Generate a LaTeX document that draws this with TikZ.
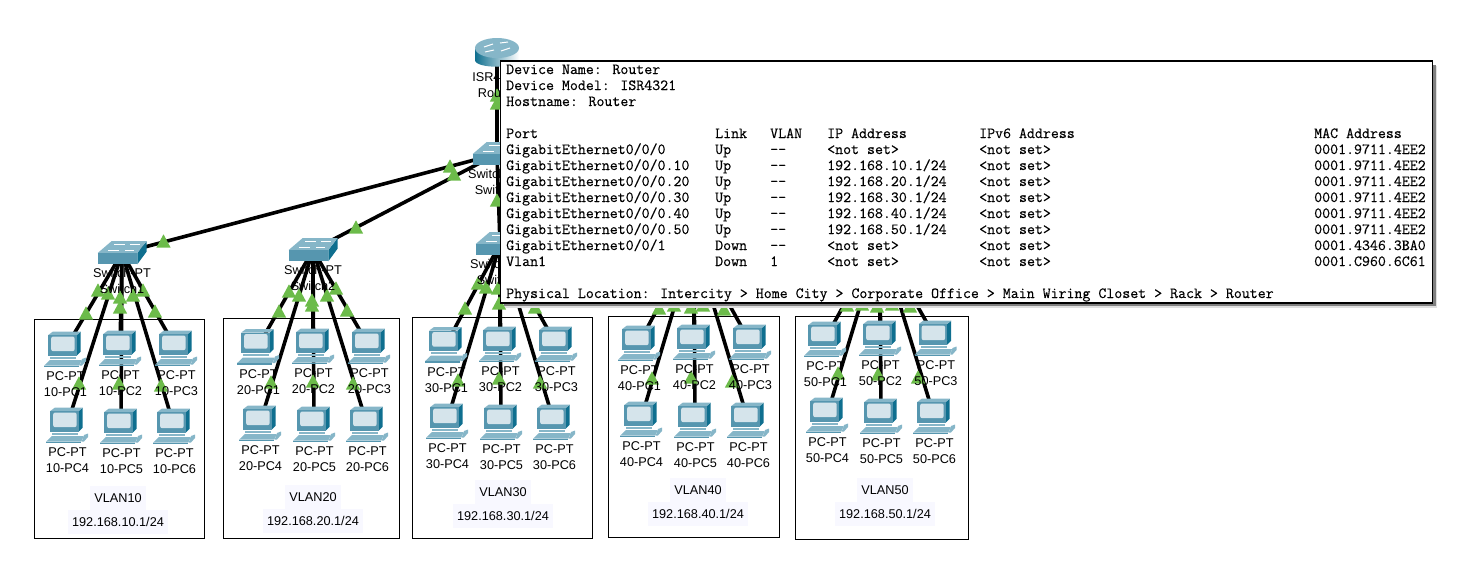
\documentclass[tikz,border=0pt]{standalone}
\usepackage{fontspec}
\setmainfont{Liberation Sans}
\newfontfamily\tipfont[FakeBold=0.35]{Latin Modern Mono}
\usepackage{tikz}
\usepackage{xcolor}
\definecolor{lampgreen}{HTML}{6CBB4A}
\definecolor{iconfront}{HTML}{5696AF}
\definecolor{icondark}{HTML}{0F6F8F}
\definecolor{icontop}{HTML}{86B6C8}
\definecolor{iconscreen}{HTML}{D5E4EB}
\definecolor{labelback}{HTML}{F8F8FF}
\tikzset{
  link/.style={line width=3.6pt,black},
  lamp/.style={fill=lampgreen},
  pclabel/.style={align=center,font=\fontsize{12.7}{16}\selectfont,inner sep=0pt},
  vlanlabel/.style={fill=labelback,font=\fontsize{12.7}{16}\selectfont,inner xsep=4.5pt,inner ysep=0pt,minimum height=23.5pt},
  tipline/.style={anchor=base west,inner sep=0pt,font=\fontsize{15.47}{16}\tipfont},
  pcicon/.pic={
    \fill[fill=icondark] (11.7,-14) -- (15.7,-17.3) -- (15.7,2.7) -- (11.7,6.7) -- cycle;
    \fill[fill=icontop] (-16.7,-14) -- (-12.3,-17.3) -- (15.7,-17.3) -- (11.7,-14) -- cycle;
    \fill[fill=iconfront] (-16.7,-14) rectangle (11.7,6.7);
    \fill[fill=iconscreen,rounded corners=2pt] (-13.8,-12.5) rectangle (9.6,2.2);
    \fill[fill=icontop] (-15,7.5) rectangle (11,9.5);
    \fill[fill=icontop] (-15,11) -- (16.7,11) -- (14.3,16.7) -- (-21,16.7) -- cycle;
    \fill[fill=iconfront] (-21,16.7) rectangle (14.3,18);
    \fill[fill=icontop] (17,10) -- (21,8.5) -- (21,12) -- (17,16.5) -- (14.8,16.5) -- cycle;
  },
  switchicon/.pic={
    \fill[fill=icondark] (15.3,0) -- (24.7,-12) -- (24.7,-1.5) -- (15.3,11.3) -- cycle;
    \fill[fill=icontop] (-24.3,0) -- (-10.3,-12) -- (24.7,-12) -- (15.3,0) -- cycle;
    \fill[fill=iconfront] (-24.3,0) rectangle (15.3,11.3);
    \draw[white,line width=0.7pt] (-8,-9) -- (3,-9) (8,-9) -- (18,-9) (-14,-3) -- (-3,-3) (3,-3) -- (12,-3);
  },
  routericon/.pic={
    \shade[left color=icondark,middle color=icontop,right color=white] (-22,-4) -- (-22,8) .. controls (-22,17) and (22,17) .. (22,8) -- (22,-4) -- cycle;
    \fill[fill=icontop] (0,-4) ellipse (22 and 10);
    \draw[white,line width=1pt] (-13,-5) -- (-4,-8) (4,-1) -- (13,-4) (-12,0) -- (-3,-2) (3,-9) -- (11,-10);
  }
}
\begin{document}
\begin{tikzpicture}[x=1pt,y=-1pt]
  \useasboundingbox (0,0) rectangle (1478,582);
  % device positions
  \foreach \n/\x/\y in {router/497/52,s0/497/154,s1/122/253,s2/313/250,s3/500/244,s4/694/241,s5/880/240,
    p11/65/349,p12/120/348,p13/176/348,p14/67/425,p15/121/426,p16/174/426,
    p21/258/346.5,p22/313/346,p23/369/346,p24/260/423,p25/314/424,p26/367/424,
    p31/446/344.5,p32/500/344,p33/556/344,p34/447/421,p35/501/422,p36/554/422,
    p41/639/343,p42/694/342,p43/750/342,p44/641/419,p45/695/420,p46/748/420,
    p51/825/339,p52/880/338,p53/935.5/338,p54/827/415,p55/881/416,p56/934/416}
    \coordinate (\n) at (\x,\y);
  % VLAN frames
  \foreach \xa/\ya/\xb/\yb in {34.5/319.5/204/538.5,223.5/318/399.5/538.5,412.5/317/592/538.5,608.5/316.5/779.5/537.5,795.5/316.5/968.5/539}
    \draw[black,line width=0.8pt] (\xa,\ya) rectangle (\xb,\yb);
  % links
  \foreach \a/\b in {router/s0,s0/s1,s0/s2,s0/s3,s0/s4,s0/s5}
    \draw[link] (\a) -- (\b);
  \foreach \g in {1,...,5}
    \foreach \k in {1,...,6}
      \draw[link] (s\g) -- (p\g\k);
  % link lamps
  \foreach \x/\y in {497/95,497/103,450/166,454/174,497/200,
    163.5/241,356/227,
    98/290,108/293,120/297,133/295,143/290,86/313,120/307,155/311,79/383,119/383,161/385,
    289/291,299/295,312/300,327/295,336/288,279/311,312/305,347/310,271/382,313/381,353/383,
    478/283,486/287,498/288,465/308,499/303,535/307,458/380,499/378,540/382,
    659/308,674/305,691/307,703/305,724/309,652/378,691/377,732/381,
    847/305,862/304,877/306,892/304,910/306,838/373,878/374,918/377}
    \path[lamp,shift={(\x,\y)}] (-7.2,6.7) -- (0,-6.7) -- (7.2,6.7) -- cycle;
  % icons
  \pic at (router) {routericon};
  \foreach \n in {s0,s1,s2,s3,s4,s5} \pic at (\n) {switchicon};
  \foreach \g in {1,...,5}
    \foreach \k in {1,...,6} {
      \pic at (p\g\k) {pcicon};
      \node[pclabel] (l\g\k) at ([shift={(0.5,35.5)}]p\g\k) {PC-PT\\\g0-PC\k};
    }
  % device labels
  \node[pclabel] (lrouter) at (497,85) {ISR4321\\Router};
  \foreach \n/\x/\y/\t in {s0/497/182/Switch0,s1/122/281/Switch1,s2/313/278/Switch2,s3/499/272/Switch3}
    \node[pclabel] (l\n) at (\x,\y) {Switch-PT\\\t};
  % VLAN captions
  \foreach \g/\x/\ya/\yb in {1/118/498/522,2/313/497/521,3/503/492/516,4/698/490/514,5/885/490/514} {
    \node[vlanlabel] (v\g) at (\x,\ya) {VLAN\g0};
    \node[vlanlabel] (ip\g) at (\x,\yb) {192.168.\g0.1/24};
  }
  % port table on top
  \fill[black!12] (505,66) rectangle (1437,308);
  \fill[black!50] (503.5,64.5) rectangle (1435.5,306);
  \draw[black,fill=white,line width=1.3pt] (500.5,61) rectangle (1432.5,303);
  \node[tipline] (tname) at (506,74) {Device Name: Router};
  \node[tipline] (tmodel) at (506,90) {Device Model: ISR4321};
  \node[tipline] (thost) at (506,106) {Hostname: Router};
  \foreach \c/\x/\t in {a/506/Port,b/715/Link,c/770/VLAN,d/827/IP Address,e/979/IPv6 Address,f/1314/MAC Address}
    \node[tipline] (th\c) at (\x,138) {\t};
  \foreach \port/\state/\vl/\ip/\mac [count=\i] in {
    {GigabitEthernet0/0/0}/Up/-{}-/{<not set>}/0001.9711.4EE2,
    {GigabitEthernet0/0/0.10}/Up/-{}-/{192.168.10.1/24}/0001.9711.4EE2,
    {GigabitEthernet0/0/0.20}/Up/-{}-/{192.168.20.1/24}/0001.9711.4EE2,
    {GigabitEthernet0/0/0.30}/Up/-{}-/{192.168.30.1/24}/0001.9711.4EE2,
    {GigabitEthernet0/0/0.40}/Up/-{}-/{192.168.40.1/24}/0001.9711.4EE2,
    {GigabitEthernet0/0/0.50}/Up/-{}-/{192.168.50.1/24}/0001.9711.4EE2,
    {GigabitEthernet0/0/1}/Down/-{}-/{<not set>}/0001.4346.3BA0,
    Vlan1/Down/1/{<not set>}/0001.C960.6C61} {
    \node[tipline] (ta\i) at (506,138+16*\i) {\port};
    \node[tipline] (tb\i) at (715,138+16*\i) {\state};
    \node[tipline] (tc\i) at (770,138+16*\i) {\vl};
    \node[tipline] (td\i) at (827,138+16*\i) {\ip};
    \node[tipline] (te\i) at (979,138+16*\i) {<not set>};
    \node[tipline] (tf\i) at (1314,138+16*\i) {\mac};
  }
  \node[tipline] (tplace) at (506,298) {Physical Location: Intercity > Home City > Corporate Office > Main Wiring Closet > Rack > Router};
\end{tikzpicture}
\end{document}
